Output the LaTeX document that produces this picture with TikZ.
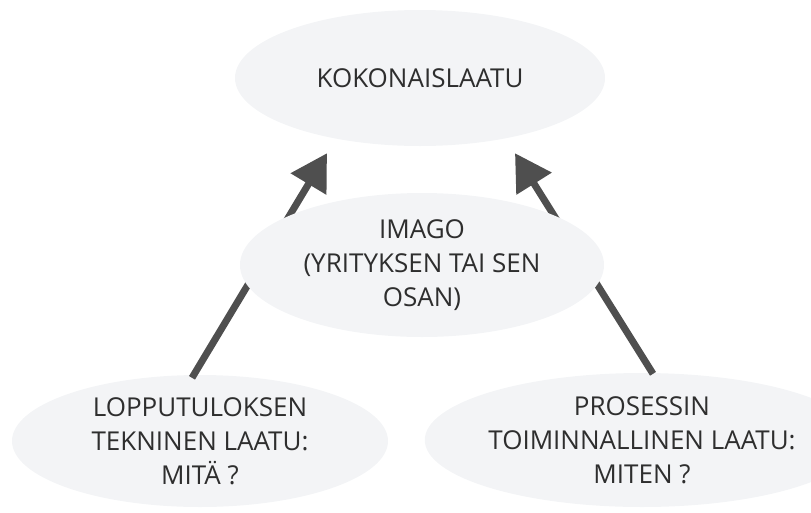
\documentclass[tikz,border=0pt]{standalone}
\usepackage{fontspec}
\setmainfont{Open Sans}
\usetikzlibrary{arrows.meta,shapes.geometric}
\definecolor{blobgray}{HTML}{F3F4F6}
\definecolor{inkgray}{HTML}{2E2E2E}
\definecolor{arrowgray}{HTML}{4F4F4F}
\tikzset{
    every node/.style={font=\fontsize{26}{34}\selectfont,text=inkgray},
    blob/.style={ellipse,fill=blobgray,inner sep=0pt,align=center},
    pointer/.style={draw=arrowgray,line width=7pt,-{Triangle[length=36pt,width=40pt]}}
}
\begin{document}
\begin{tikzpicture}[x=1pt,y=-1pt]
    \clip (0,0) rectangle (811,512);
    \node[blob,minimum width=370pt,minimum height=136pt] (top) at (420,78) {KOKONAISLAATU};
    \node[blob,minimum width=376pt,minimum height=132pt] (tech) at (200,441) {LOPPUTULOKSEN\\TEKNINEN LAATU:\\MITÄ ?};
    \node[blob,minimum width=374pt,minimum height=134pt] (func) at (642,440) {PROSESSIN\\TOIMINNALLINEN LAATU:\\MITEN ?};
    \draw[pointer] ([xshift=-8pt,yshift=-3pt]tech.north) -- ([xshift=-93pt,yshift=-7pt]top.south);
    \draw[pointer] ([xshift=11pt,yshift=-1pt]func.north) -- ([xshift=95pt,yshift=-7pt]top.south);
    \node[blob,minimum width=364pt,minimum height=144pt] (imago) at (422,265) {IMAGO\\(YRITYKSEN TAI SEN\\OSAN)};
\end{tikzpicture}
\end{document}
